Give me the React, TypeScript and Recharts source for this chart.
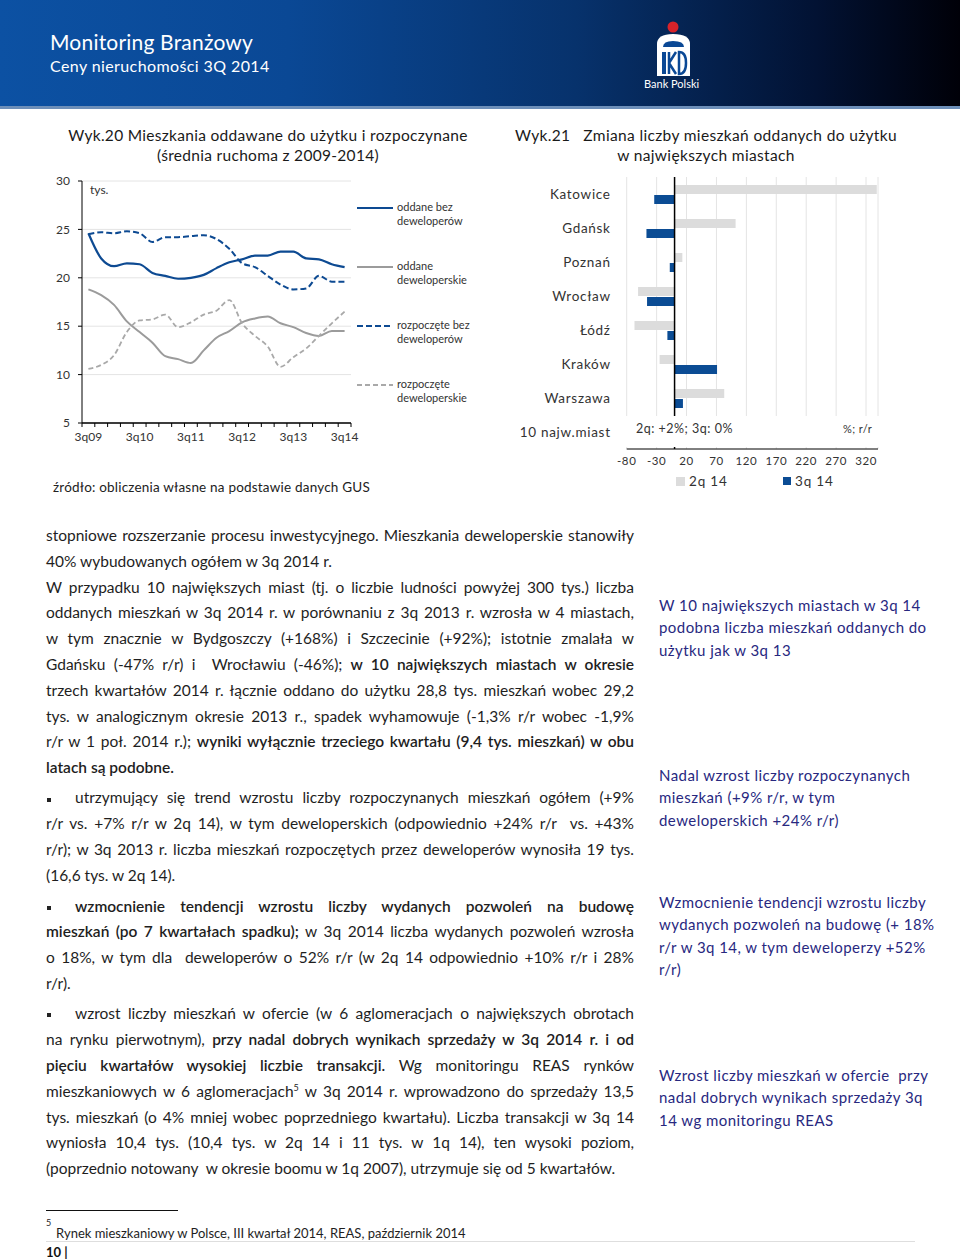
import React from "react";
import {
  Bar,
  BarChart,
  CartesianGrid,
  Line,
  LineChart,
  ReferenceLine,
  XAxis,
  YAxis,
} from "recharts";

// Wyk.20 — quarterly moving averages, thousands of flats
const QUARTERS = [
  "3q09", "4q09", "1q10", "2q10", "3q10", "4q10", "1q11", "2q11", "3q11", "4q11",
  "1q12", "2q12", "3q12", "4q12", "1q13", "2q13", "3q13", "4q13", "1q14", "2q14", "3q14",
];
const ODDANE_BEZ_DEW = [24.6, 22.0, 21.2, 21.5, 21.4, 20.5, 20.2, 19.9, 20.0, 20.3, 21.0, 21.6, 21.9, 22.3, 22.3, 22.7, 22.7, 22.0, 21.9, 21.4, 21.1];
const ODDANE_DEW = [18.8, 18.2, 17.2, 15.5, 14.4, 13.3, 11.9, 11.6, 11.2, 12.5, 13.8, 14.5, 15.4, 15.8, 16.0, 15.3, 14.9, 14.3, 14.0, 14.5, 14.5];
const ROZP_BEZ_DEW = [24.5, 24.7, 24.6, 24.8, 24.6, 23.7, 24.2, 24.2, 24.3, 24.4, 24.0, 23.0, 21.5, 21.1, 20.2, 19.3, 18.8, 18.9, 20.2, 19.6, 19.6];
const ROZP_DEW = [10.6, 11.0, 12.0, 14.4, 15.6, 15.7, 16.2, 14.9, 15.4, 16.2, 16.6, 17.7, 15.3, 14.0, 12.9, 10.8, 11.8, 12.7, 14.0, 15.3, 16.5];
const LINE_Y_TICKS = [5, 10, 15, 20, 25, 30];
const LINE_LABEL_IDX = [0, 4, 8, 12, 16, 20];

// Wyk.21 — % r/r
const CITIES = ["Katowice", "Gdańsk", "Poznań", "Wrocław", "Łódź", "Kraków", "Warszawa", "10 najw.miast"];
const CHANGE_2Q14 = [338, 102, 13, -61, -67, -25, 83, 2];
const CHANGE_3Q14 = [-34, -47, -8, -46, -12, 71, 14, 0];
const BAR_TICKS = [-80, -30, 20, 70, 120, 170, 220, 270, 320];

const FONT = "Lato, 'Open Sans', sans-serif";
const NAVY = "#0d4a92";
const NOTE = "#28287f";
const TEXT = "#1e1e1e";

const lineData = QUARTERS.map((q, i) => ({
  i,
  q,
  a: ODDANE_BEZ_DEW[i],
  b: ODDANE_DEW[i],
  c: ROZP_BEZ_DEW[i],
  d: ROZP_DEW[i],
}));
// tick marks sit between quarters, like the Excel original
const boundaryTicks = QUARTERS.map((_, i) => i - 0.5).concat(QUARTERS.length - 0.5);

const barData = CITIES.map((city, i) => ({ city, q2: CHANGE_2Q14[i], q3: CHANGE_3Q14[i] }));

const abs = (left: number, top: number, extra: React.CSSProperties = {}): React.CSSProperties => ({
  position: "absolute",
  left,
  top,
  ...extra,
});

function Header() {
  return (
    <>
      <div
        style={abs(0, 0, {
          width: 960,
          height: 107,
          background: "linear-gradient(to right, #0c51a3 0%, #0a4895 30%, #07326c 60%, #021233 85%, #000008 100%)",
        })}
      />
      <div style={abs(0, 106, { width: 960, height: 3, background: "#6d8fb9" })} />
      <div style={abs(50, 28, { color: "#fff", fontSize: 21, letterSpacing: 0.2, lineHeight: "28px" })}>
        Monitoring Branżowy
      </div>
      <div style={abs(50, 56, { color: "#fff", fontSize: 16, letterSpacing: 0.4, lineHeight: "20px" })}>
        Ceny nieruchomości 3Q 2014
      </div>
      <svg style={abs(640, 14)} width={70} height={64}>
        <circle cx={33} cy={13} r={5.5} fill="#d8232a" />
        <path d="M17 62 L17 30 Q17 20 33 20 Q50 20 50 30 L50 62 Z" fill="#fff" />
        <path d="M23 33 Q23 27 33 27 Q44 27 44 33 Z" fill="#0a4895" />
        <rect x={22} y={38} width={4} height={22} fill="#0a4895" />
        <path d="M29 38 L29 60 M29 49 L36 38 M29 49 L36 60" stroke="#0a4895" strokeWidth={2.5} fill="none" />
        <path d="M39 38 L39 60 Q46 60 46 49 Q46 38 39 38 Z" stroke="#0a4895" strokeWidth={2.5} fill="none" />
      </svg>
      <div style={abs(644, 77, { color: "#fff", fontSize: 11, lineHeight: "14px" })}>Bank Polski</div>
    </>
  );
}

function LegendLine({ color, dash }: { color: string; dash?: string }) {
  return (
    <svg width={36} height={6} style={{ display: "block" }}>
      <line x1={0} y1={3} x2={36} y2={3} stroke={color} strokeWidth={2} strokeDasharray={dash} />
    </svg>
  );
}

function MovingAvgChart() {
  const legend = [
    { top: 200, color: NAVY, dash: undefined, l1: "oddane bez", l2: "deweloperów" },
    { top: 259, color: "#9b9b9b", dash: undefined, l1: "oddane", l2: "deweloperskie" },
    { top: 318, color: NAVY, dash: "6 3", l1: "rozpoczęte bez", l2: "deweloperów" },
    { top: 377, color: "#a9a9a9", dash: "5 3", l1: "rozpoczęte", l2: "deweloperskie" },
  ];
  return (
    <>
      <div
        style={abs(60, 125, {
          width: 416,
          textAlign: "center",
          fontSize: 15.5,
          lineHeight: "20px",
          letterSpacing: 0.3,
          color: "#1a1a1a",
        })}
      >
        Wyk.20 Mieszkania oddawane do użytku i rozpoczynane
        <br />
        (średnia ruchoma z 2009-2014)
      </div>
      <div style={abs(40, 170)}>
        <LineChart width={320} height={290} data={lineData} margin={{ top: 11, right: 9, bottom: 12, left: 0 }}>
          <CartesianGrid vertical={false} stroke="#e4e4e4" xAxisId="a_ticks" />
          <XAxis
            xAxisId="b_labels"
            dataKey="i"
            type="number"
            domain={[-0.5, 20.5]}
            ticks={LINE_LABEL_IDX}
            interval={0}
            tickFormatter={(v: number) => QUARTERS[v]}
            axisLine={false}
            tickLine={false}
            tickSize={4}
            tickMargin={1}
            height={21}
            tick={{ fontSize: 12, fill: "#333" }}
          />
          <XAxis
            xAxisId="a_ticks"
            dataKey="i"
            type="number"
            domain={[-0.5, 20.5]}
            ticks={boundaryTicks}
            interval={0}
            tick={{ fontSize: 0 }}
            tickFormatter={() => ""}
            tickSize={4}
            tickMargin={0}
            height={4}
            axisLine={{ stroke: "#000" }}
            tickLine={{ stroke: "#000" }}
          />
          <YAxis
            domain={[5, 30]}
            ticks={LINE_Y_TICKS}
            interval={0}
            width={42}
            tickSize={4}
            tickMargin={8}
            axisLine={{ stroke: "#000" }}
            tickLine={{ stroke: "#000" }}
            tick={{ fontSize: 12, fill: "#333" }}
          />
          <Line xAxisId="a_ticks" type="monotone" dataKey="b" stroke="#9b9b9b" strokeWidth={2} dot={false} isAnimationActive={false} />
          <Line xAxisId="a_ticks" type="monotone" dataKey="d" stroke="#a9a9a9" strokeWidth={1.8} strokeDasharray="5 3" dot={false} isAnimationActive={false} />
          <Line xAxisId="a_ticks" type="monotone" dataKey="c" stroke={NAVY} strokeWidth={2} strokeDasharray="6 3" dot={false} isAnimationActive={false} />
          <Line xAxisId="a_ticks" type="monotone" dataKey="a" stroke={NAVY} strokeWidth={2.2} dot={false} isAnimationActive={false} />
          <ReferenceLine xAxisId="a_ticks" y={5} stroke="#000" strokeWidth={1} />
        </LineChart>
      </div>
      <div style={abs(90, 182, { fontSize: 12, color: "#333", lineHeight: "16px" })}>tys.</div>
      {legend.map((e) => (
        <div key={e.l1} style={abs(357, e.top, { display: "flex", alignItems: "flex-start" })}>
          <div style={{ paddingTop: 5 }}>
            <LegendLine color={e.color} dash={e.dash} />
          </div>
          <div style={{ marginLeft: 4, fontSize: 11, lineHeight: "14px", color: "#333" }}>
            {e.l1}
            <br />
            {e.l2}
          </div>
        </div>
      ))}
      <div style={abs(53, 479, { fontSize: 13.5, lineHeight: "16px", color: "#222", letterSpacing: 0.2 })}>
        źródło: obliczenia własne na podstawie danych GUS
      </div>
    </>
  );
}

function CityChangeChart() {
  return (
    <>
      <div
        style={abs(500, 125, {
          width: 412,
          textAlign: "center",
          fontSize: 15.5,
          lineHeight: "20px",
          letterSpacing: 0.35,
          color: "#1a1a1a",
        })}
      >
        Wyk.21&nbsp;&nbsp;&nbsp;Zmiana liczby mieszkań oddanych do użytku
        <br />
        w największych miastach
      </div>
      <div style={abs(500, 160)}>
        <BarChart
          layout="vertical"
          width={400}
          height={310}
          data={barData}
          margin={{ top: 17, right: 22, bottom: 1, left: 0 }}
          barGap={1}
          barCategoryGap="22%"
        >
          <CartesianGrid horizontal={false} stroke="#e4e4e4" />
          <XAxis
            type="number"
            domain={[-80, 340]}
            ticks={BAR_TICKS}
            interval={0}
            tickLine={false}
            axisLine={{ stroke: "#000" }}
            height={20}
            tick={{ fontSize: 11.5, fill: "#333", letterSpacing: 0.6 }}
          />
          <YAxis
            type="category"
            dataKey="city"
            width={126.7}
            interval={0}
            axisLine={false}
            tickLine={false}
            tickMargin={10}
            tick={{ fontSize: 13.5, fill: "#333", letterSpacing: 0.7 }}
          />
          <Bar dataKey="q2" fill="#dcdcdc" barSize={9} isAnimationActive={false} />
          <Bar dataKey="q3" fill="#0b4c94" barSize={9} isAnimationActive={false} />
          <ReferenceLine x={0} stroke="#000" strokeWidth={1.5} />
        </BarChart>
      </div>
      {/* summary row for the 10 largest cities sits over the last band */}
      <div style={abs(620, 416, { width: 262, height: 31, background: "#fff" })} />
      <div style={abs(636, 421, { fontSize: 12.5, lineHeight: "16px", color: "#333", letterSpacing: 0.5 })}>
        2q: +2%; 3q: 0%
      </div>
      <div style={abs(843, 421, { fontSize: 11, lineHeight: "16px", color: "#333", letterSpacing: 0.4 })}>%; r/r</div>
      <div style={abs(676, 473, { display: "flex", alignItems: "center", fontSize: 13.5, color: "#333", letterSpacing: 0.8 })}>
        <span style={{ width: 9, height: 9, background: "#dcdcdc", display: "inline-block", marginRight: 4 }} />
        <span style={{ width: 78 }}>2q 14</span>
        <span style={{ width: 8, height: 8, background: "#0b4c94", display: "inline-block", marginLeft: 16, marginRight: 4 }} />
        <span>3q 14</span>
      </div>
    </>
  );
}

const LH = 25.8;

function Row({ children, last = false, bullet = false }: { children: React.ReactNode; last?: boolean; bullet?: boolean }) {
  return (
    <div style={{ display: "flex", height: LH, alignItems: "center" }}>
      {bullet && (
        <span style={{ width: 29, flex: "none" }}>
          <span style={{ display: "inline-block", width: 4, height: 4, background: "#222", marginLeft: 1, verticalAlign: "middle" }} />
        </span>
      )}
      <div style={{ flex: 1, textAlign: "justify", textAlignLast: last ? "left" : "justify" }}>{children}</div>
    </div>
  );
}

const B = ({ children }: { children: React.ReactNode }) => <span style={{ fontWeight: 600 }}>{children}</span>;

function Body() {
  return (
    <div style={abs(46, 523, { width: 588, fontSize: 15.5, color: TEXT, lineHeight: `${LH}px` })}>
      <Row>stopniowe rozszerzanie procesu inwestycyjnego. Mieszkania deweloperskie stanowiły</Row>
      <Row last>40% wybudowanych ogółem w 3q 2014 r.</Row>
      <Row>W przypadku 10 największych miast (tj. o liczbie ludności powyżej 300 tys.) liczba</Row>
      <Row>oddanych mieszkań w 3q 2014 r. w porównaniu z 3q 2013 r. wzrosła w 4 miastach,</Row>
      <Row>w tym znacznie w Bydgoszczy (+168%) i Szczecinie (+92%); istotnie zmalała w</Row>
      <Row>
        Gdańsku (-47% r/r) i&nbsp; Wrocławiu (-46%); <B>w 10 największych miastach w okresie</B>
      </Row>
      <Row>trzech kwartałów 2014 r. łącznie oddano do użytku 28,8 tys. mieszkań wobec 29,2</Row>
      <Row>tys. w analogicznym okresie 2013 r., spadek wyhamowuje (-1,3% r/r wobec -1,9%</Row>
      <Row>
        r/r w 1 poł. 2014 r.); <B>wyniki wyłącznie trzeciego kwartału (9,4 tys. mieszkań) w obu</B>
      </Row>
      <Row last>
        <B>latach są podobne.</B>
      </Row>

      <div style={{ height: 4.5 }} />
      <Row bullet>utrzymujący się trend wzrostu liczby rozpoczynanych mieszkań ogółem (+9%</Row>
      <Row>r/r vs. +7% r/r w 2q 14), w tym deweloperskich (odpowiednio +24% r/r&nbsp; vs. +43%</Row>
      <Row>r/r); w 3q 2013 r. liczba mieszkań rozpoczętych przez deweloperów wynosiła 19 tys.</Row>
      <Row last>(16,6 tys. w 2q 14).</Row>

      <div style={{ height: 5 }} />
      <Row bullet>
        <B>wzmocnienie tendencji wzrostu liczby wydanych pozwoleń na budowę</B>
      </Row>
      <Row>
        <B>mieszkań (po 7 kwartałach spadku);</B> w 3q 2014 liczba wydanych pozwoleń wzrosła
      </Row>
      <Row>o 18%, w tym dla&nbsp; deweloperów o 52% r/r (w 2q 14 odpowiednio +10% r/r i 28%</Row>
      <Row last>r/r).</Row>

      <div style={{ height: 4.5 }} />
      <Row bullet>wzrost liczby mieszkań w ofercie (w 6 aglomeracjach o największych obrotach</Row>
      <Row>
        na rynku pierwotnym), <B>przy nadal dobrych wynikach sprzedaży w 3q 2014 r. i od</B>
      </Row>
      <Row>
        <B>pięciu kwartałów wysokiej liczbie transakcji.</B> Wg monitoringu REAS rynków
      </Row>
      <Row>
        mieszkaniowych w 6 aglomeracjach<sup style={{ fontSize: 9, lineHeight: 0 }}>5</sup> w 3q 2014 r. wprowadzono do sprzedaży 13,5
      </Row>
      <Row>tys. mieszkań (o 4% mniej wobec poprzedniego kwartału). Liczba transakcji w 3q 14</Row>
      <Row>wyniosła 10,4 tys. (10,4 tys. w 2q 14 i 11 tys. w 1q 14), ten wysoki poziom,</Row>
      <Row last>(poprzednio notowany&nbsp; w okresie boomu w 1q 2007), utrzymuje się od 5 kwartałów.</Row>
    </div>
  );
}

const NOTES = [
  { top: 594, lines: ["W 10 największych miastach w 3q 14", "podobna liczba mieszkań oddanych do", "użytku jak w 3q 13"] },
  { top: 764, lines: ["Nadal wzrost liczby rozpoczynanych", "mieszkań (+9% r/r, w tym", "deweloperskich +24% r/r)"] },
  {
    top: 891,
    lines: ["Wzmocnienie tendencji wzrostu liczby", "wydanych pozwoleń na budowę (+ 18%", "r/r w 3q 14, w tym deweloperzy +52%", "r/r)"],
  },
  { top: 1064, lines: ["Wzrost liczby mieszkań w ofercie  przy", "nadal dobrych wynikach sprzedaży 3q", "14 wg monitoringu REAS"] },
];

function SideNotes() {
  return (
    <>
      {NOTES.map((n) => (
        <div
          key={n.top}
          style={abs(659, n.top, { fontSize: 15, lineHeight: "22.3px", color: NOTE, letterSpacing: 0.45, whiteSpace: "pre" })}
        >
          {n.lines.map((l) => (
            <div key={l}>{l}</div>
          ))}
        </div>
      ))}
    </>
  );
}

function Footer() {
  return (
    <>
      <div style={abs(46, 1210, { width: 132, height: 1, background: "#111" })} />
      <div style={abs(46, 1218, { fontSize: 9, color: TEXT, lineHeight: "10px" })}>5</div>
      <div style={abs(56, 1225, { fontSize: 13, color: TEXT, lineHeight: "16px" })}>
        Rynek mieszkaniowy w Polsce, III kwartał 2014, REAS, październik 2014
      </div>
      <div style={abs(46, 1241, { width: 869, height: 1, background: "#dedede" })} />
      <div style={abs(46, 1244, { fontSize: 13, fontWeight: 700, color: "#111", lineHeight: "16px" })}>10 |</div>
    </>
  );
}

export default function App() {
  return (
    <div style={abs(0, 0, { width: 960, height: 1260, background: "#fff", fontFamily: FONT, overflow: "hidden" })}>
      <Header />
      <MovingAvgChart />
      <CityChangeChart />
      <Body />
      <SideNotes />
      <Footer />
    </div>
  );
}
